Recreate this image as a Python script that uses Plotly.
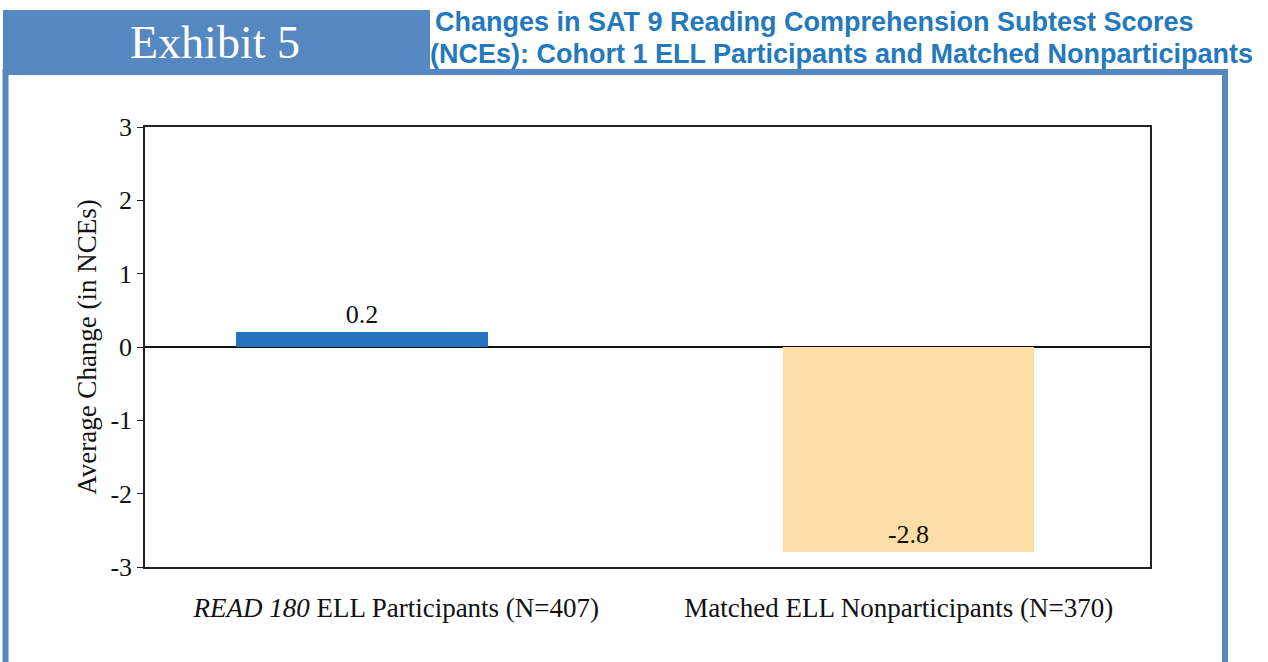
import plotly.graph_objects as go

# data
groups = ["<i>READ 180</i> ELL Participants (N=407)", "Matched ELL Nonparticipants (N=370)"]
avg_change = [0.2, -2.8]
bar_colors = ["#2474BB", "#FDDEA6"]
y_ticks = [3, 2, 1, 0, -1, -2, -3]
y_tick_text = ["3", "2", "1", "0", "-1", "-2", "-3"]

W, H = 1268, 662
frame_blue = "#5588C0"
title_blue = "#2479BD"
serif = "Liberation Serif, Times New Roman, serif"
sans = "Liberation Sans, Arial, sans-serif"


def px(x):
    return x / W


def py(y):
    return 1 - y / H


fig = go.Figure()
fig.add_trace(
    go.Bar(
        x=groups,
        y=avg_change,
        marker=dict(color=bar_colors, line=dict(width=0)),
        width=0.5,
        offset=[-0.318, -0.231],
        texttemplate="%{y:.1f}",
        textposition=["outside", "inside"],
        insidetextanchor="end",
        textfont=dict(family=serif, size=26, color="#111111"),
        cliponaxis=False,
        showlegend=False,
    )
)

shapes = [
    # header box
    dict(type="rect", xref="paper", yref="paper", x0=px(3), x1=px(430), y0=py(72), y1=py(10),
         fillcolor=frame_blue, line=dict(width=0), layer="below"),
    # blue frame
    dict(type="rect", xref="paper", yref="paper", x0=px(5.5), x1=px(1225), y0=py(700), y1=py(72),
         line=dict(color=frame_blue, width=6), layer="below"),
]

annotations = [
    dict(text="Exhibit 5", x=px(215), y=py(42), xref="paper", yref="paper", showarrow=False,
         font=dict(family=serif, size=46, color="white"), xanchor="center", yanchor="middle"),
    dict(text="<b>Changes in SAT 9 Reading Comprehension Subtest Scores</b>", x=px(433), y=py(22),
         xref="paper", yref="paper", showarrow=False, xanchor="left", yanchor="middle",
         font=dict(family=sans, size=27, color=title_blue)),
    dict(text="<b>(NCEs): Cohort 1 ELL Participants and Matched Nonparticipants</b>", x=px(428), y=py(54),
         xref="paper", yref="paper", showarrow=False, xanchor="left", yanchor="middle",
         font=dict(family=sans, size=27, color=title_blue)),
]

fig.update_layout(
    width=W,
    height=H,
    margin=dict(l=0, r=0, t=0, b=0, autoexpand=False),
    paper_bgcolor="white",
    plot_bgcolor="white",
    font=dict(family=serif, size=26, color="#111111"),
    shapes=shapes,
    annotations=annotations,
    bargap=0,
)

fig.update_xaxes(
    domain=[px(145), px(1150)],
    range=[-0.5, 1.5],
    automargin=False,
    showline=True,
    linecolor="#222222",
    linewidth=1.5,
    mirror=True,
    ticks="",
    showgrid=False,
    ticklabelstandoff=16,
    tickfont=dict(family=serif, size=27, color="#111111"),
)
fig.update_yaxes(
    domain=[py(567), py(127)],
    range=[-3, 3],
    automargin=False,
    tickvals=y_ticks,
    ticktext=y_tick_text,
    ticks="outside",
    ticklen=6,
    tickcolor="#222222",
    showline=True,
    linecolor="#222222",
    linewidth=1.5,
    mirror=True,
    showgrid=False,
    zeroline=True,
    zerolinecolor="#111111",
    zerolinewidth=2,
    tickfont=dict(family=serif, size=26, color="#111111"),
    title=dict(text="Average Change (in NCEs)", font=dict(family=serif, size=27, color="#111111"), standoff=6),
)

fig.write_html("out.html", config={"displayModeBar": False},
               post_script="document.body.style.margin='0';")
